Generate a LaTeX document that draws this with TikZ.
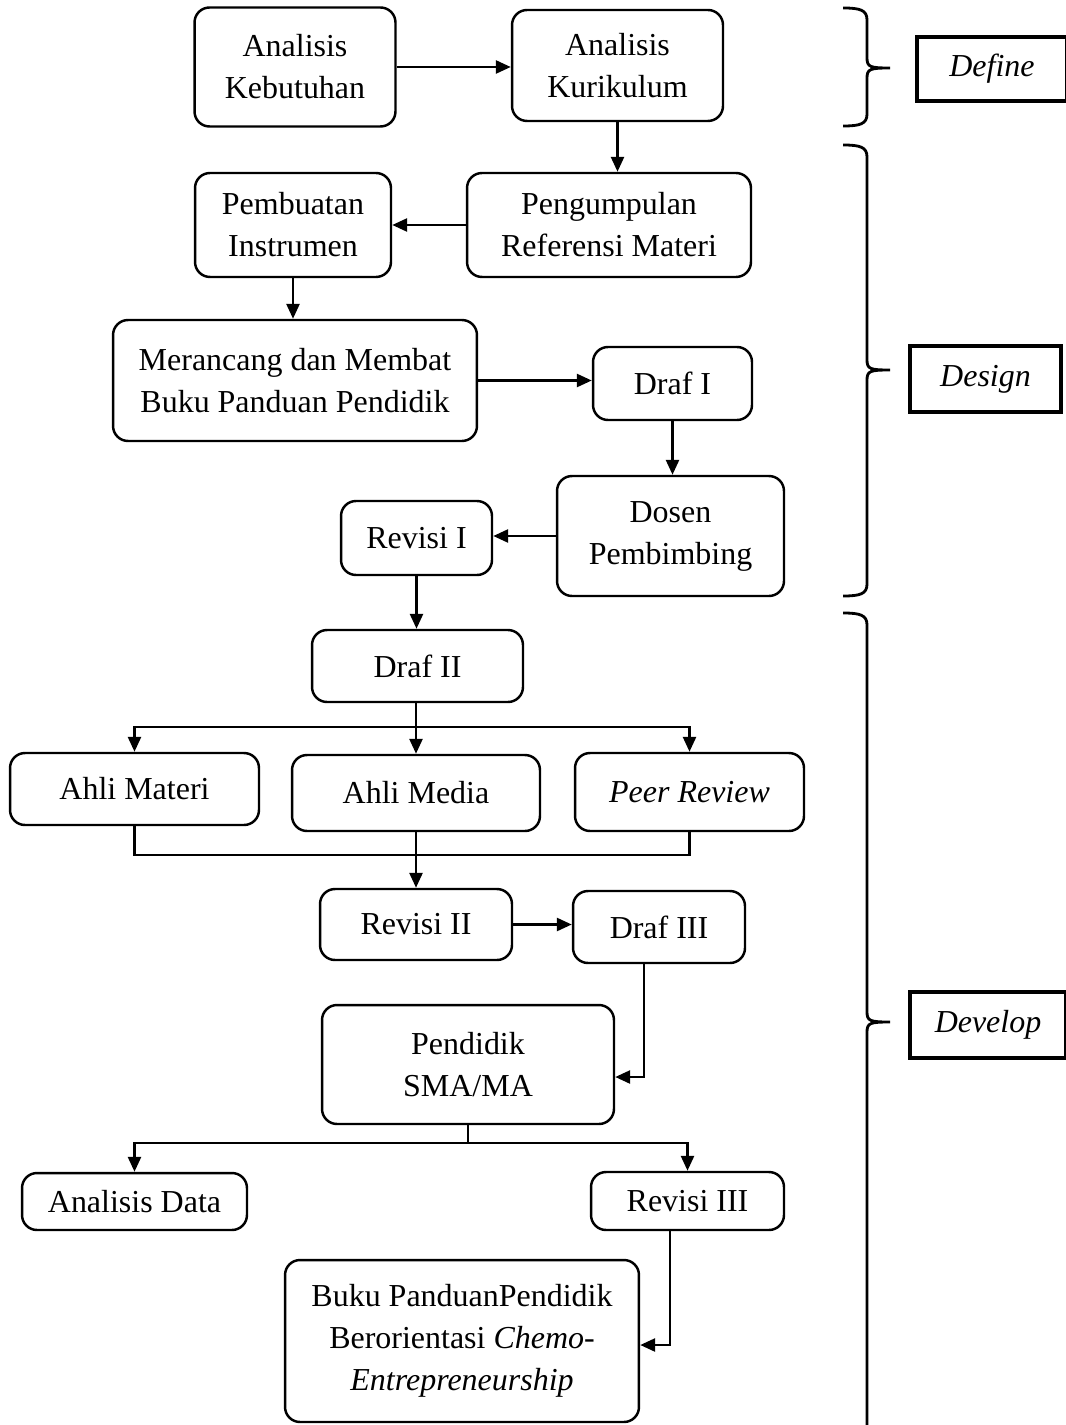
\documentclass[tikz,border=0pt]{standalone}
\usepackage{fontspec}
\setmainfont{Liberation Serif}
\usetikzlibrary{arrows.meta}

\begin{document}
\begin{tikzpicture}[x=0.02cm, y=-0.02cm, line width=1.5pt,
  font=\fontsize{18.2}{23.9}\selectfont]

\tikzstyle{every node} = [rectangle, align=center, inner sep=0pt]
\tikzstyle{box} = [draw, line width=1.4pt, rounded corners=0.3cm]
\tikzstyle{stage} = [draw, line width=2pt, font=\fontsize{18.2}{23.9}\selectfont\itshape]
\tikzstyle{arr} = [-{Triangle[length=0.3cm,width=0.26cm]}]
\tikzstyle{bracket} = [line width=1.6pt]

\useasboundingbox (0,0) rectangle (1065,1425);

% define
\node[box, minimum width=4.02cm, minimum height=2.38cm] (ak) at (295,67) {Analisis\\Kebutuhan};
\node[box, minimum width=4.22cm, minimum height=2.22cm] (akur) at (617.5,65.5) {Analisis\\Kurikulum};

% design
\node[box, minimum width=3.92cm, minimum height=2.08cm] (pi) at (293,225) {Pembuatan\\Instrumen};
\node[box, minimum width=5.68cm, minimum height=2.08cm] (prm) at (609,225) {Pengumpulan\\Referensi Materi};
\node[box, minimum width=7.28cm, minimum height=2.42cm] (mbp) at (295,380.5) {Merancang dan Membat\\Buku Panduan Pendidik};
\node[box, minimum width=3.18cm, minimum height=1.46cm] (d1) at (672.5,383.5) {Draf I};
\node[box, minimum width=4.54cm, minimum height=2.40cm] (dp) at (670.5,536) {Dosen\\Pembimbing};
\node[box, minimum width=3.02cm, minimum height=1.48cm] (r1) at (416.5,538) {Revisi I};

% develop
\node[box, minimum width=4.22cm, minimum height=1.44cm] (d2) at (417.5,666) {Draf II};
\node[box, minimum width=4.98cm, minimum height=1.44cm] (am) at (134.5,789) {Ahli Materi};
\node[box, minimum width=4.96cm, minimum height=1.52cm] (amed) at (416,793) {Ahli Media};
\node[box, minimum width=4.58cm, minimum height=1.56cm] (pr) at (689.5,792) {\itshape Peer Review};
\node[box, minimum width=3.84cm, minimum height=1.42cm] (r2) at (416,924.5) {Revisi II};
\node[box, minimum width=3.44cm, minimum height=1.44cm] (d3) at (659,927) {Draf III};
\node[box, minimum width=5.84cm, minimum height=2.38cm] (ps) at (468,1064.5) {Pendidik\\SMA/MA};
\node[box, minimum width=4.50cm, minimum height=1.14cm] (ad) at (134.5,1201.5) {Analisis Data};
\node[box, minimum width=3.86cm, minimum height=1.16cm] (r3) at (687.5,1201) {Revisi III};
\node[box, minimum width=7.08cm, minimum height=3.24cm] (bp) at (462,1341) {Buku PanduanPendidik\\Berorientasi \textit{Chemo-}\\\textit{Entrepreneurship}};

% stages
\node[stage, minimum width=3.0cm, minimum height=1.28cm] (sdef) at (992,69) {Define};
\node[stage, minimum width=3.02cm, minimum height=1.32cm] (sdes) at (985.5,379) {Design};
\node[stage, minimum width=3.12cm, minimum height=1.32cm] (sdev) at (988,1025) {Develop};

\coordinate (b1) at (416,727);
\coordinate (j1) at (416,855);
\coordinate (k1) at (644,1077);
\coordinate (b2) at (468,1143);
\coordinate (k2) at (670,1345);

\draw[arr] (ak.east) -- (ak.east -| akur.west);
\draw[arr] (akur.south) -- (akur.south |- prm.north);
\draw[arr] (prm.west) -- (prm.west -| pi.east);
\draw[arr] (pi.south) -- (pi.south |- mbp.north);
\draw[arr] (mbp.east) -- (mbp.east -| d1.west);
\draw[arr] (d1.south) -- (d1.south |- dp.north);
\draw[arr] (dp.west) -- (dp.west -| r1.east);
\draw[arr] (r1.south) -- (r1.south |- d2.north);

\draw (b1 |- d2.south) -- (b1);
\draw[arr] (b1) -| (am);
\draw[arr] (b1) -- (amed);
\draw[arr] (b1) -| (pr);
\draw (am) |- (j1) -| (pr);
\draw[arr] (amed) -- (r2);
\draw[arr] (r2.east) -- (r2.east -| d3.west);
\draw[arr] (d3.south -| k1) -- (k1) -- (k1 -| ps.east);

\draw (ps) -- (b2);
\draw[arr] (b2) -| (ad);
\draw[arr] (b2) -| (r3);
\draw[arr] (r3.south -| k2) -- (k2) -- (k2 -| bp.east);

% braces
\foreach \t/\m/\b in {8/68/126, 145/370/596, 613/1022/1440}
  \draw[bracket] (843,\t) .. controls (860,\t) and (867,\t+2) .. (867,\t+12)
    -- (867,\m-10) .. controls (867,\m-1) and (870,\m) .. (890,\m)
    .. controls (870,\m) and (867,\m+1) .. (867,\m+10)
    -- (867,\b-12) .. controls (867,\b-2) and (860,\b) .. (843,\b);

\end{tikzpicture}
\end{document}
